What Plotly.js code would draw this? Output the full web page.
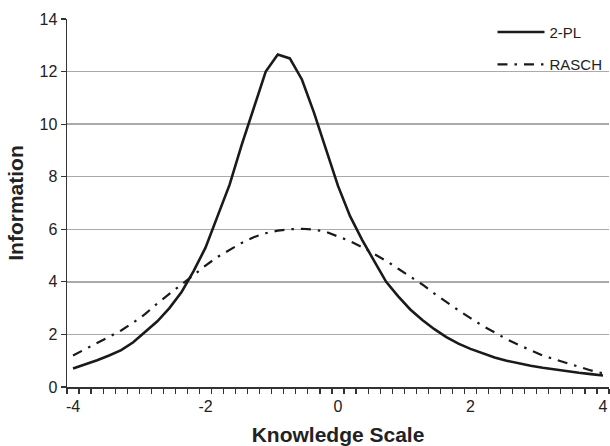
<!DOCTYPE html>
<html>
<head>
<meta charset="utf-8">
<script src="https://cdn.plot.ly/plotly-3.0.1.min.js"></script>
<style>html,body{margin:0;padding:0;background:#fff;}#chart{width:610px;height:446px;}</style>
</head>
<body>
<div id="chart"></div>
<script>
var knowledge = [-4.000,-3.818,-3.636,-3.455,-3.273,-3.091,-2.909,-2.727,-2.545,-2.364,-2.182,-2.000,-1.818,-1.636,-1.455,-1.273,-1.091,-0.909,-0.727,-0.545,-0.364,-0.182,0.000,0.182,0.364,0.545,0.727,0.909,1.091,1.273,1.455,1.636,1.818,2.000,2.182,2.364,2.545,2.727,2.909,3.091,3.273,3.455,3.636,3.818,4.000];
var info2PL = [0.70,0.85,1.02,1.20,1.40,1.70,2.10,2.50,3.00,3.60,4.40,5.30,6.50,7.70,9.20,10.60,12.00,12.65,12.50,11.70,10.45,9.05,7.65,6.50,5.60,4.80,4.00,3.45,2.95,2.55,2.20,1.90,1.65,1.45,1.28,1.12,1.00,0.90,0.81,0.73,0.66,0.60,0.54,0.49,0.44];
var infoRasch = [1.20,1.43,1.67,1.90,2.15,2.45,2.78,3.18,3.55,3.90,4.25,4.62,4.95,5.22,5.48,5.70,5.85,5.95,6.00,6.02,5.99,5.90,5.72,5.55,5.32,5.06,4.80,4.50,4.20,3.90,3.55,3.22,2.92,2.62,2.33,2.08,1.82,1.60,1.40,1.20,1.05,0.90,0.77,0.63,0.52];
var seriesNames = ['2-PL','RASCH'];
var xTickVals = [-4,-2,0,2,4];
var xTickText = ['-4','-2','0','2','4'];
var yTickVals = [0,2,4,6,8,10,12,14];
var yTickText = ['0','2','4','6','8','10','12','14'];

var font = 'Liberation Sans, Arial, Helvetica, sans-serif';
var traces = [
  {x: knowledge, y: info2PL, name: seriesNames[0], legendgroup: 'a', mode: 'lines',
   line: {color: '#1a1a1a', width: 2.6}},
  {x: knowledge, y: infoRasch, name: seriesNames[1], legendgroup: 'b', mode: 'lines',
   line: {color: '#1a1a1a', width: 2.2, dash: '10px,7px,2.5px,7px'}}
];
var layout = {
  width: 610, height: 446,
  margin: {l: 67, r: 1, t: 19, b: 59},
  paper_bgcolor: '#fff', plot_bgcolor: '#fff',
  font: {family: font, color: '#222', size: 16},
  showlegend: true,
  legend: {x: 0.785, y: 1.009, xanchor: 'left', yanchor: 'top', bgcolor: 'rgba(0,0,0,0)',
           font: {family: font, size: 15, color: '#222'}, tracegroupgap: 10, itemwidth: 47},
  xaxis: {
    range: [-4.0909, 4.0909], tickvals: xTickVals, ticktext: xTickText, ticks: '',
    ticklabelstandoff: 4,
    showgrid: false, zeroline: false, showline: true, linecolor: '#333', linewidth: 1.5,
    tickfont: {family: font, size: 16, color: '#222'},
    minor: {ticks: 'outside', tick0: -4.0909, dtick: 0.181818, ticklen: 5, tickcolor: '#333', tickwidth: 1.2, showgrid: false},
    title: {text: 'Knowledge Scale', font: {family: font, size: 21, color: '#222', weight: 'bold'}, standoff: 14}
  },
  yaxis: {
    range: [0, 14], tickvals: yTickVals, ticktext: yTickText, ticks: 'outside', ticklen: 5,
    tickcolor: '#333', tickwidth: 1.2,
    showgrid: true, gridcolor: '#aaaaaa', gridwidth: 1.5, zeroline: false,
    showline: true, linecolor: '#333', linewidth: 1.5,
    tickfont: {family: font, size: 16, color: '#222'},
    title: {text: 'Information', font: {family: font, size: 21, color: '#222', weight: 'bold'}, standoff: 10}
  }
};
Plotly.newPlot('chart', traces, layout, {displayModeBar: false, staticPlot: true});
</script>
</body>
</html>
